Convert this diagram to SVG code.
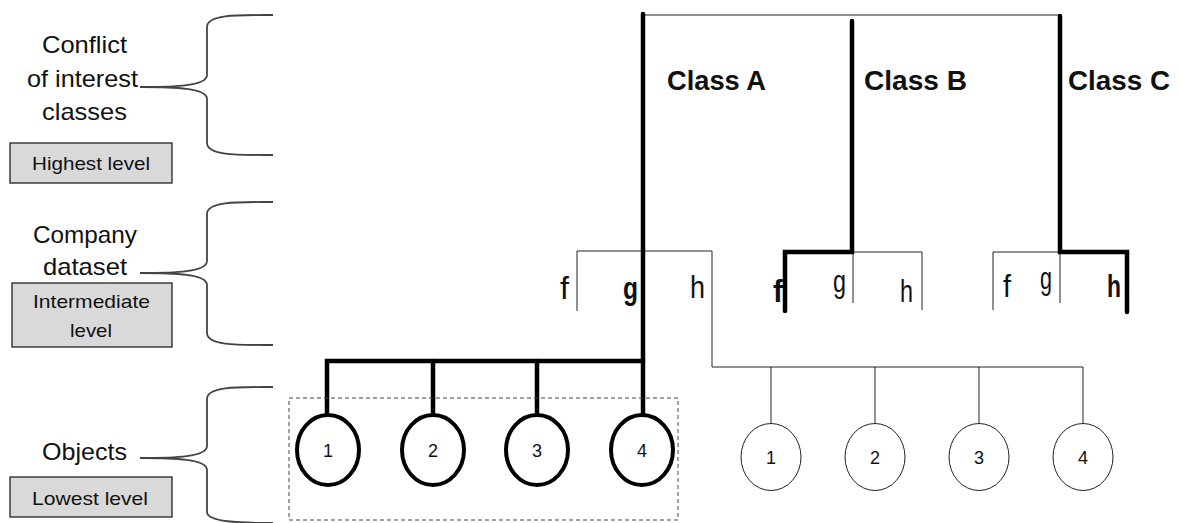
<svg xmlns="http://www.w3.org/2000/svg" width="1181" height="523" viewBox="0 0 1181 523">
  <style>
    text { font-family: "Liberation Sans", Arial, sans-serif; fill: #111; }
    .lbl { font-size: 24px; text-anchor: start; }
    .lvl { font-size: 19px; }
    .cls { font-size: 28px; font-weight: bold; }
    .ltr { font-size: 32px; }
    .ltrb { font-size: 32px; font-weight: bold; }
    .num { font-size: 18px; text-anchor: middle; }
    .brace { fill: none; stroke: #444; stroke-width: 1.8; }
    .box { fill: #d9d9d9; stroke: #222; stroke-width: 1.3; }
    .thick { fill: none; stroke: #000; stroke-width: 4.5; stroke-linecap: round; stroke-linejoin: miter; }
    .thin { fill: none; stroke: #222; stroke-width: 1; }
    .objB { fill: #fff; stroke: #000; stroke-width: 4; }
    .objT { fill: #fff; stroke: #222; stroke-width: 1; }
    .group { fill: none; stroke: #444; stroke-width: 1; stroke-dasharray: 4 3; }
  </style>

  <!-- Level legend on the left -->
  <g id="level-high">
    <path class="brace" d="M273,15 C240,15 207,14 207,27 L207,75 C207,86 175,87 140,87 C175,87 207,88 207,99 L207,143 C207,156 240,155 273,155"/>
    <text class="lbl" x="42" y="53" textLength="85" lengthAdjust="spacingAndGlyphs">Conflict</text>
    <text class="lbl" x="27" y="87" textLength="111" lengthAdjust="spacingAndGlyphs">of interest</text>
    <text class="lbl" x="42" y="120" textLength="85" lengthAdjust="spacingAndGlyphs">classes</text>
    <rect class="box" x="10" y="143" width="162" height="40"/>
    <text class="lvl" x="32" y="170" textLength="118" lengthAdjust="spacingAndGlyphs">Highest level</text>
  </g>

  <g id="level-mid">
    <path class="brace" d="M273,202 C240,202 207,201 207,214 L207,261 C207,272 175,273 140,273 C175,273 207,274 207,285 L207,333 C207,346 240,345 273,345"/>
    <text class="lbl" x="33" y="243" textLength="104" lengthAdjust="spacingAndGlyphs">Company</text>
    <text class="lbl" x="43" y="275" textLength="84" lengthAdjust="spacingAndGlyphs">dataset</text>
    <rect class="box" x="12" y="283" width="160" height="64"/>
    <text class="lvl" x="33" y="308" textLength="117" lengthAdjust="spacingAndGlyphs">Intermediate</text>
    <text class="lvl" x="70" y="337" textLength="42" lengthAdjust="spacingAndGlyphs">level</text>
  </g>

  <g id="level-low">
    <path class="brace" d="M273,387 C240,387 207,386 207,399 L207,446 C207,457 175,458 140,458 C175,458 207,459 207,470 L207,512 C207,522 240,523 273,523"/>
    <text class="lbl" x="42" y="460" textLength="85" lengthAdjust="spacingAndGlyphs">Objects</text>
    <rect class="box" x="10" y="477" width="162" height="40"/>
    <text class="lvl" x="32" y="505" textLength="116" lengthAdjust="spacingAndGlyphs">Lowest level</text>
  </g>

  <!-- Tree connectors -->
  <g id="connectors">
    <!-- root bar -->
    <line class="thin" x1="643" y1="15" x2="1060" y2="15"/>
    <!-- dataset brackets -->
    <polyline class="thin" points="577,311 577,251 712,251 712,367 1083,367"/>
    <polyline class="thin" points="785,252 922,252 922,310"/>
    <line class="thin" x1="853" y1="252" x2="853" y2="303"/>
    <polyline class="thin" points="993,310 993,252 1060,252"/>
    <line class="thin" x1="1060" y1="252" x2="1060" y2="303"/>
    <!-- object drops, right group -->
    <line class="thin" x1="771" y1="367" x2="771" y2="424"/>
    <line class="thin" x1="875" y1="367" x2="875" y2="424"/>
    <line class="thin" x1="979" y1="367" x2="979" y2="424"/>
    <line class="thin" x1="1083" y1="367" x2="1083" y2="424"/>
    <!-- highlighted paths -->
    <line class="thick" x1="643" y1="14" x2="643" y2="415"/>
    <polyline class="thick" points="852,21 852,252 785,252 785,311"/>
    <polyline class="thick" points="1060,16 1060,252 1127,252 1127,312"/>
    <polyline class="thick" points="327,415 327,361 643,361"/>
    <line class="thick" x1="433" y1="361" x2="433" y2="415"/>
    <line class="thick" x1="537" y1="361" x2="537" y2="415"/>
  </g>

  <!-- Class labels -->
  <g id="class-a"><text class="cls" x="667" y="90" textLength="99" lengthAdjust="spacingAndGlyphs">Class A</text></g>
  <g id="class-b"><text class="cls" x="864" y="90" textLength="103" lengthAdjust="spacingAndGlyphs">Class B</text></g>
  <g id="class-c"><text class="cls" x="1068" y="90" textLength="102" lengthAdjust="spacingAndGlyphs">Class C</text></g>

  <!-- Company dataset fields -->
  <g id="fields-a">
    <text class="ltr" x="560" y="299" textLength="9" lengthAdjust="spacingAndGlyphs">f</text>
    <text class="ltrb" x="623" y="299" textLength="15" lengthAdjust="spacingAndGlyphs">g</text>
    <text class="ltr" x="690" y="298" textLength="15" lengthAdjust="spacingAndGlyphs">h</text>
  </g>
  <g id="fields-b">
    <text class="ltrb" x="773" y="302" textLength="10" lengthAdjust="spacingAndGlyphs">f</text>
    <text class="ltr" x="833" y="292" textLength="13" lengthAdjust="spacingAndGlyphs">g</text>
    <text class="ltr" x="900" y="302" textLength="13" lengthAdjust="spacingAndGlyphs">h</text>
  </g>
  <g id="fields-c">
    <text class="ltr" x="1003" y="297" textLength="8" lengthAdjust="spacingAndGlyphs">f</text>
    <text class="ltr" x="1040" y="289" textLength="12" lengthAdjust="spacingAndGlyphs">g</text>
    <text class="ltrb" x="1107" y="297" textLength="14" lengthAdjust="spacingAndGlyphs">h</text>
  </g>

  <!-- Objects -->
  <rect class="group" x="289" y="398" width="389" height="122"/>
  <g id="obj-a1"><ellipse class="objB" cx="328" cy="450" rx="31" ry="35"/><text class="num" x="328" y="457">1</text></g>
  <g id="obj-a2"><ellipse class="objB" cx="433" cy="450" rx="31" ry="35"/><text class="num" x="433" y="457">2</text></g>
  <g id="obj-a3"><ellipse class="objB" cx="537" cy="450" rx="31" ry="35"/><text class="num" x="537" y="457">3</text></g>
  <g id="obj-a4"><ellipse class="objB" cx="642" cy="450" rx="31" ry="35"/><text class="num" x="642" y="457">4</text></g>

  <g id="obj-b1"><ellipse class="objT" cx="771" cy="457" rx="30" ry="33.5"/><text class="num" x="771" y="464">1</text></g>
  <g id="obj-b2"><ellipse class="objT" cx="875" cy="457" rx="30" ry="33.5"/><text class="num" x="875" y="464">2</text></g>
  <g id="obj-b3"><ellipse class="objT" cx="979" cy="457" rx="30" ry="33.5"/><text class="num" x="979" y="464">3</text></g>
  <g id="obj-b4"><ellipse class="objT" cx="1083" cy="457" rx="30" ry="33.5"/><text class="num" x="1083" y="464">4</text></g>
</svg>
